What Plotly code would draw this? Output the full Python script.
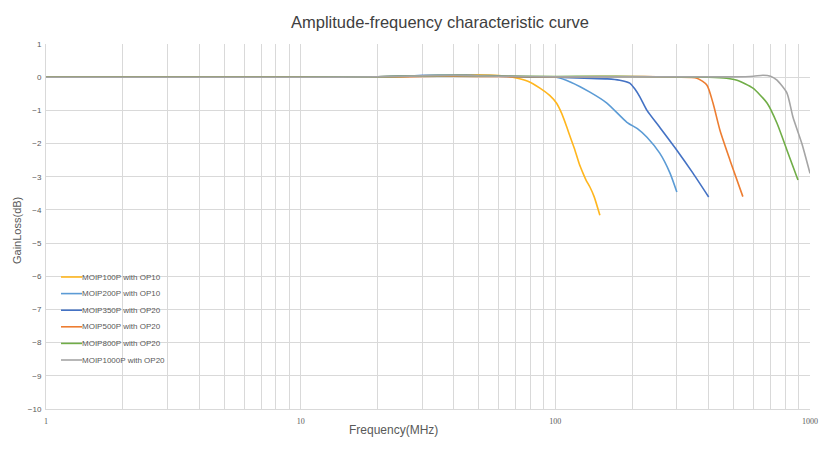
import plotly.graph_objects as go

# ---- data ----
names = ["MOIP100P with OP10", "MOIP200P with OP10", "MOIP350P with OP20",
         "MOIP500P with OP20", "MOIP800P with OP20", "MOIP1000P with OP20"]
colors = ["#FFB61E", "#5B9BD5", "#4472C4", "#ED7D31", "#70AD47", "#A5A5A5"]

f_100 = [1, 2, 5, 10, 20, 30, 40, 50, 60, 68, 78, 87, 95, 101, 106, 111, 115, 119.4, 124, 128.4, 132, 136.7, 142, 149.6]
g_100 = [0, 0, 0, 0, 0.01, 0.04, 0.06, 0.07, 0.05, 0.0, -0.12, -0.33, -0.55, -0.78, -1.1, -1.51, -1.85, -2.2, -2.6, -2.89, -3.1, -3.31, -3.6, -4.16]

f_200 = [1, 2, 5, 10, 20, 30, 40, 50, 60, 70, 80, 90, 101, 115, 136.7, 159.4, 191, 210, 229, 257, 282, 300]
g_200 = [0, 0, 0, 0, 0.01, 0.05, 0.06, 0.05, 0.04, 0.02, 0.01, 0.0, 0.0, -0.15, -0.45, -0.78, -1.36, -1.55, -1.81, -2.29, -2.89, -3.46]

f_350 = [1, 2, 5, 10, 20, 30, 40, 50, 60, 80, 100, 130, 160, 179, 196, 205, 215, 229, 257, 300, 347, 400]
g_350 = [0, 0, 0, 0, 0.01, 0.05, 0.05, 0.04, 0.03, 0.01, 0.0, -0.03, -0.05, -0.09, -0.18, -0.35, -0.6, -1.0, -1.51, -2.2, -2.89, -3.61]

f_500 = [1, 2, 5, 10, 20, 30, 40, 60, 100, 150, 200, 250, 300, 360, 394, 416, 443, 485, 545]
g_500 = [0, 0, 0, 0, 0.0, 0.02, 0.03, 0.02, 0.01, 0.02, 0.02, 0.01, 0.0, -0.03, -0.24, -0.78, -1.6, -2.5, -3.6]

f_800 = [1, 2, 5, 10, 20, 30, 40, 60, 100, 150, 200, 300, 400, 470, 517, 597, 678, 742, 812, 897]
g_800 = [0, 0, 0, 0, 0.01, 0.04, 0.05, 0.03, 0.02, 0.03, 0.02, 0.01, 0.0, -0.03, -0.09, -0.33, -0.78, -1.39, -2.2, -3.1]

f_1000 = [1, 2, 5, 10, 20, 30, 40, 60, 100, 200, 300, 400, 500, 600, 653, 700, 742, 812, 857, 929, 1000]
g_1000 = [0, 0, 0, 0, 0.01, 0.04, 0.05, 0.03, 0.01, 0.01, 0.01, 0.01, 0.01, 0.03, 0.06, 0.03, -0.09, -0.48, -1.2, -2.0, -2.9]

series_f = [f_100, f_200, f_350, f_500, f_800, f_1000]
series_g = [g_100, g_200, g_350, g_500, g_800, g_1000]

x_major = [1, 10, 100, 1000]
x_minor_digits = [1, 2, 3, 4, 5, 6, 7, 8, 9]
y_ticks = [1, 0, -1, -2, -3, -4, -5, -6, -7, -8, -9, -10]

title_text = "Amplitude-frequency characteristic curve"
x_title = "Frequency(MHz)"
y_title = "GainLoss(dB)"

# ---- figure ----
W, H = 819, 452
ML, MR, MT, MB = 46, 9, 44, 43
PW, PH = W - ML - MR, H - MT - MB


def px_x(page_x):
    return (page_x - ML) / PW


def px_y(page_y):
    return 1 - (page_y - MT) / PH


fig = go.Figure()
for nm, c, fx, gy in zip(names, colors, series_f, series_g):
    fig.add_trace(go.Scatter(x=fx, y=gy, mode="lines", name=nm, showlegend=False,
                             line=dict(color=c, width=1.6, shape="spline", smoothing=0.6)))

# hand-drawn compact legend (Excel style), in paper coordinates
for i, (nm, c) in enumerate(zip(names, colors)):
    yp = px_y(277 + i * 16.6)
    fig.add_shape(type="line", xref="paper", yref="paper",
                  x0=px_x(61), x1=px_x(82), y0=yp, y1=yp,
                  line=dict(color=c, width=1.6))
    fig.add_annotation(xref="paper", yref="paper", x=px_x(82), y=yp,
                       text=nm, showarrow=False, xanchor="left", yanchor="middle",
                       xshift=-2, font=dict(size=8, color="#595959"))

# axis titles placed like the Excel original
fig.add_annotation(xref="paper", yref="paper", x=px_x(393), y=px_y(430), text=x_title,
                   showarrow=False, xanchor="center", yanchor="middle",
                   font=dict(size=12, color="#595959"))
fig.add_annotation(xref="paper", yref="paper", x=px_x(17), y=px_y(231), text=y_title,
                   showarrow=False, xanchor="center", yanchor="middle", textangle=-90,
                   font=dict(size=11, color="#595959"))

tickvals = []
ticktext = []
for d in x_major[:-1]:
    for k in x_minor_digits:
        tickvals.append(d * k)
        ticktext.append(str(d) if k == 1 else "")
tickvals.append(x_major[-1])
ticktext.append(str(x_major[-1]))

fig.update_layout(
    width=W, height=H,
    paper_bgcolor="white", plot_bgcolor="white",
    margin=dict(l=ML, r=MR, t=MT, b=MB, autoexpand=False),
    showlegend=False,
    title=dict(text=title_text, x=440 / W, xanchor="center",
               y=1 - 22 / H, yanchor="middle",
               font=dict(family="Liberation Sans, Arial", size=16.5, color="#404040")),
    font=dict(family="Liberation Sans, Arial", color="#595959"),
    xaxis=dict(type="log", range=[0, 3], tickvals=tickvals, ticktext=ticktext,
               automargin=False,
               showgrid=True, gridcolor="#D9D9D9", gridwidth=1,
               showline=True, linecolor="#D9D9D9", zeroline=False,
               ticks="", ticklabelstandoff=4, ticklabeloverflow="allow",
               tickfont=dict(family="Liberation Serif, Times New Roman", size=8, color="#595959")),
    yaxis=dict(range=[-10, 1], tickvals=y_ticks, showgrid=True, gridcolor="#D9D9D9",
               automargin=False,
               gridwidth=1, zeroline=False, showline=True, linecolor="#D9D9D9",
               ticks="", ticklabelstandoff=2, tickfont=dict(size=8, color="#595959")),
)

fig.write_html("out.html",
               config={"displayModeBar": False},
               post_script="document.body.style.margin='0';document.body.style.overflow='hidden';")
